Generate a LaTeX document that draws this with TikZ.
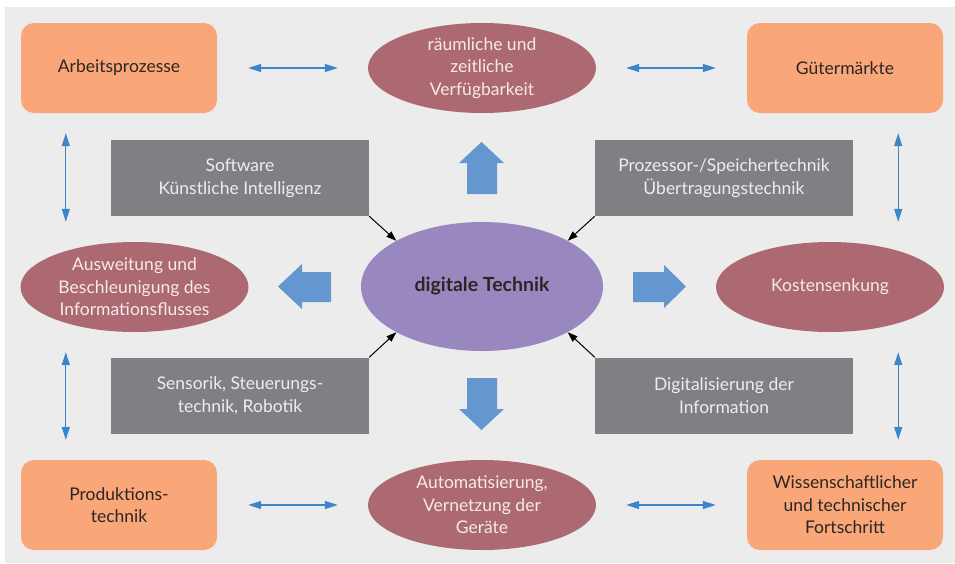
\documentclass[tikz,border=0pt]{standalone}
\usepackage{fontspec}
\setmainfont{Lato}
\usetikzlibrary{arrows.meta,shapes.geometric,positioning}
\definecolor{grund}{HTML}{ECECEC}
\definecolor{orange1}{HTML}{F9A678}
\definecolor{rot}{HTML}{AD6971}
\definecolor{lila}{HTML}{9988BF}
\definecolor{grau}{HTML}{7F8084}
\definecolor{blau}{HTML}{6497D0}
\definecolor{linie}{HTML}{3C85C8}
\definecolor{dunkel}{HTML}{2B2624}
\definecolor{hell}{HTML}{F5EAEB}
\tikzset{
	feld/.style={rectangle,rounded corners=13pt,fill=orange1,minimum width=196pt,minimum height=90pt,inner sep=0pt,text=dunkel,align=center,font=\fontsize{17.5}{22.5}\selectfont},
	oval/.style={ellipse,fill=rot,minimum width=228pt,minimum height=90pt,inner sep=0pt},
	ovaltext/.style={text=hell,align=center,font=\fontsize{17.5}{22.5}\selectfont},
	kern/.style={ellipse,fill=lila,minimum width=242pt,minimum height=129pt,inner sep=0pt,text=dunkel,font=\fontsize{19.5}{23}\selectfont\bfseries},
	kasten/.style={rectangle,fill=grau,minimum width=258pt,minimum height=76pt,inner sep=0pt,text=hell,align=center,font=\fontsize{17.5}{22.5}\selectfont},
	doppel/.style={draw=linie,line width=1.2pt,{Triangle[length=13pt,width=8pt]}-{Triangle[length=13pt,width=8pt]}},
	zeiger/.style={draw=black,line width=1pt,-{Triangle[length=10pt,width=7pt]}}
}
\begin{document}
\begin{tikzpicture}[x=1pt,y=-1pt]
	\useasboundingbox (0,0) rectangle (955,563);
	\fill[grund] (5,7) rectangle (955,563);

	\node[feld] (arbeit) at (119,68) {Arbeitsprozesse};
	\node[feld] (gueter) at (845,68) {Gütermärkte};
	\node[feld] (produktion) at (119,505) {Produktions-\\technik};
	\node[feld] (fortschritt) at (845,505) {Wissenschaftlicher\\und technischer\\Fortschritt};

	\node[oval] (raum) at (482,68) {};
	\node[ovaltext] (raumtext) at (raum) {räumliche und\\zeitliche\\Verfügbarkeit};
	\node[oval] (info) at (134.5,287) {};
	\node[ovaltext] (infotext) at (info) {Ausweitung und\\Beschleunigung des\\Informationsflusses};
	\node[oval] (kosten) at (830,287) {};
	\node[ovaltext] (kostentext) at (kosten) {Kostensenkung};
	\node[oval] (auto) at (482,505) {};
	\node[ovaltext] (autotext) at (auto) {Automatisierung,\\Vernetzung der\\Geräte};

	\node[kern] (technik) at (482,286.5) {digitale Technik};

	\node[kasten] (software) at (240,178) {Software\\Künstliche Intelligenz};
	\node[kasten] (prozessor) at (724,178) {Prozessor-/Speichertechnik\\Übertragungstechnik};
	\node[kasten] (sensorik) at (240,395.5) {Sensorik, Steuerungs-\\technik, Robotik};
	\node[kasten] (digital) at (724,395.5) {Digitalisierung der\\Information};

	\draw[doppel,shorten <=31pt,shorten >=30pt] (arbeit) -- (raum);
	\draw[doppel,shorten <=30pt,shorten >=31pt] (raum) -- (gueter);
	\draw[doppel,shorten <=31pt,shorten >=30pt] (produktion) -- (auto);
	\draw[doppel,shorten <=30pt,shorten >=31pt] (auto) -- (fortschritt);

	\draw[doppel,shorten <=20pt,shorten >=20pt] ([xshift=45pt]arbeit.south west) -- ([xshift=45pt]arbeit.south west |- info.north);
	\draw[doppel,shorten <=20pt,shorten >=20pt] ([xshift=45pt]produktion.north west |- info.south) -- ([xshift=45pt]produktion.north west);
	\draw[doppel,shorten <=20pt,shorten >=20pt] ([xshift=-45pt]gueter.south east) -- ([xshift=-45pt]gueter.south east |- kosten.north);
	\draw[doppel,shorten <=20pt,shorten >=20pt] ([xshift=-45pt]fortschritt.north east |- kosten.south) -- ([xshift=-45pt]fortschritt.north east);

	\draw[zeiger] (software.south east) -- (technik.north west);
	\draw[zeiger] (prozessor.south west) -- (technik.north east);
	\draw[zeiger] (sensorik.north east) -- (technik.south west);
	\draw[zeiger] (digital.north west) -- (technik.south east);

	\fill[blau] (467,194) -- (467,163) -- (459,163) -- (481.5,142) -- (504,163) -- (497,163) -- (497,194) -- cycle;
	\fill[blau] (467,378) -- (497,378) -- (497,409) -- (504,409) -- (481.5,430) -- (459,409) -- (467,409) -- cycle;
	\fill[blau] (331,272) -- (302,272) -- (302,264) -- (278,286.5) -- (302,309) -- (302,302) -- (331,302) -- cycle;
	\fill[blau] (633,272) -- (664,272) -- (664,265) -- (686,286.5) -- (664,308) -- (664,302) -- (633,302) -- cycle;
\end{tikzpicture}
\end{document}
